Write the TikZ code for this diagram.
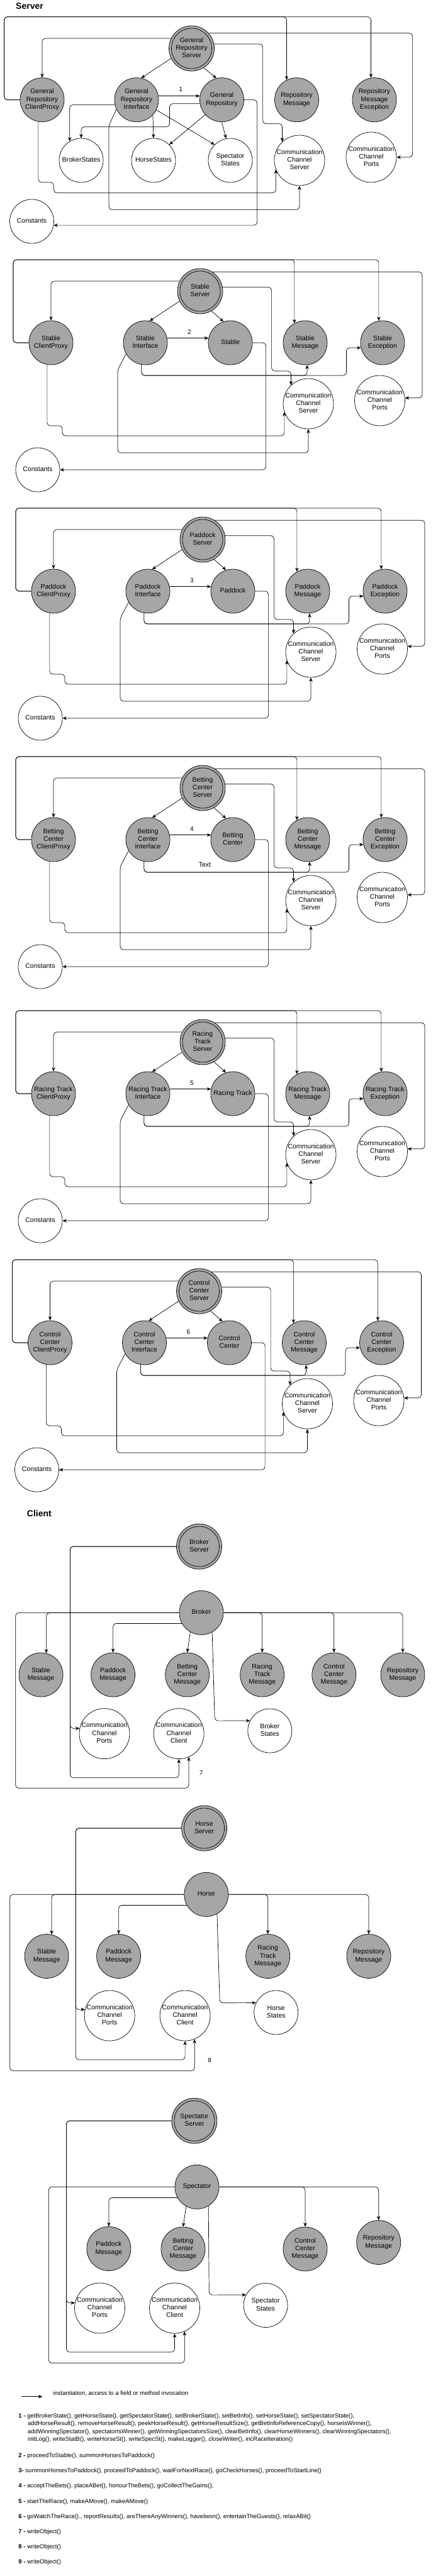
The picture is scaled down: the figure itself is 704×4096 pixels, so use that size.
\documentclass[tikz,border=0pt]{standalone}
\usepackage{fontspec}
\setmainfont{Liberation Sans}
\usetikzlibrary{arrows.meta}
\definecolor{nodegray}{HTML}{A6A6A6}
\newcommand{\nodefont}{\fontsize{10.5}{12.4}\selectfont}
\newcommand{\legfont}{\fontsize{9.5}{11}\selectfont}
\newcommand{\titlefont}{\fontsize{14}{16}\selectfont\bfseries}
\newcommand{\nodetxt}[1]{\makebox[0pt]{\begin{tabular}{@{}c@{}}#1\end{tabular}}}
\tikzset{
  circnode/.style={circle, draw=black, line width=0.7pt, minimum size=70pt, inner sep=0pt, font=\nodefont},
  gnode/.style={circnode, fill=nodegray},
  wnode/.style={circnode, fill=white},
  cnode/.style={circnode, fill=white, minimum size=80pt},
  snode/.style={circnode, fill=nodegray, minimum size=72pt,
    path picture={\draw[line width=0.7pt] (path picture bounding box.center) circle[radius=32pt];}},
  arr/.style={draw=black, line width=0.7pt, rounded corners=5pt, -{Stealth[length=6.5pt,width=5.5pt,inset=2pt]}},
  lab/.style={font=\fontsize{10}{12}\selectfont, inner sep=0pt},
  leg/.style={font=\legfont, inner sep=0pt, anchor=west},
  ttl/.style={font=\titlefont, inner sep=0pt, anchor=west}
}
% server section template
\newcommand{\srvsec}[9]{%
\begin{scope}[shift={(#1,#2)}, name prefix=s#3-]
\node[snode] (srv) at (0,0) {\nodetxt{#4}};
\node[gnode] (cp) at (-237,82) {\nodetxt{#5}};
\node[gnode] (if) at (-87,82) {\nodetxt{#6}};
\node[gnode] (core) at (48,82) {\nodetxt{#7}};
\node[gnode] (msg) at (167,82) {\nodetxt{#8}};
\node[gnode] (exc) at (290,82) {\nodetxt{#9}};
\node[cnode] (ccs) at (172,179) {\nodetxt{Communication\\Channel\\Server}};
\node[cnode] (ccp) at (285.5,174) {\nodetxt{Communication\\Channel\\Ports}};
\node[wnode] (const) at (-258,284) {\nodetxt{Constants}};
\draw[arr] (cp.west) -- (-297,82) -- (-297,-50) -| (msg.119);
\draw[arr] (cp.west) -- (-297,82) -- (-297,-50) -| (exc.100);
\draw[arr] (srv.58) -| (353,169.8) -- (ccp.6);
\draw[arr] (srv.10) -| (113.6,127) -| (ccs.133);
\draw[arr] (srv.154) -| (cp.north);
\draw[arr] (srv.206) -- (if.79);
\draw[arr] (srv.300) -- (core.108);
\draw[arr] (if.12) -- (core.168);
\node[lab] (num) at (-17,65) {#3};
\draw[arr] (if.260) |- (170,134) -- (msg.275);
\draw[arr] (if.260) |- (232.5,134) |- (exc.193);
\draw[arr] (core.east) -| (104.6,284) -- (const.east);
\draw[arr] (cp.260) |- (-219,214) -- (-219,230) -| (ccs.199);
\draw[arr] (if.210) -- (-131,125) -- (-131,257) -| (ccs.south);
\end{scope}}
\begin{document}
\begin{tikzpicture}[x=1pt,y=-1pt]
\fill[white] (0,0) rectangle (704,4096);
\useasboundingbox (0,0) rectangle (704,4096);

% ---------------- Server title
\node[ttl] (tserver) at (25,9.5) {Server};

% ---------------- General Repository section
\node[snode] (grs) at (304.5,77) {\nodetxt{General\\Repository\\Server}};
\node[gnode] (grcp) at (67,158.7) {\nodetxt{General\\Repository\\ClientProxy}};
\node[gnode] (gri) at (217,158.7) {\nodetxt{General\\Repository\\Interface}};
\node[gnode] (gr) at (352.5,158.7) {\nodetxt{General\\Repository}};
\node[gnode] (grm) at (471.5,158.7) {\nodetxt{Repository\\Message}};
\node[gnode] (grme) at (595,158.7) {\nodetxt{Repository\\Message\\Exception}};
\node[wnode] (gbs) at (129,255) {\nodetxt{BrokerStates}};
\node[wnode] (ghs) at (244,255) {\nodetxt{HorseStates}};
\node[wnode] (gss) at (366,255) {\nodetxt{Spectator\\States}};
\node[cnode] (gccs) at (476,255) {\nodetxt{Communication\\Channel\\Server}};
\node[cnode] (gccp) at (590,250) {\nodetxt{Communication\\Channel\\Ports}};
\node[wnode] (gconst) at (50.5,352) {\nodetxt{Constants}};

\draw[arr] (grcp.west) -- (6.7,158.7) -- (6.7,26.7) -| (grm.117);
\draw[arr] (grcp.west) -- (6.7,158.7) -- (6.7,26.7) -| (grme.99);
\draw[arr] (grs.42) -| (655.6,250) -- (gccp.east);
\draw[arr] (grs.11) -| (417.6,196.7) -| (gccs.133);
\draw[arr] (gr.east) -| (408.6,358.1) -- (gconst.350);
\draw[arr] (grs.154) -| (grcp.north);
\draw[arr] (grs.206) -- (gri.78);
\draw[arr] (grs.302) -- (gr.104);
\draw[arr] (gri.10) -- (gr.170);
\node[lab] (n1) at (287.4,141.7) {1};
\draw[arr] (gri.193) -| (gbs.121);
\draw[arr] (gr.190) -| (269.4,201.7) -| (gbs.north);
\draw[arr] (gri.317) -- (ghs.north);
\draw[arr] (gri.333) -- (gss.135);
\draw[arr] (gr.222) -- (ghs.45);
\draw[arr] (gr.south) -- (gss.101);
\draw[arr] (grcp.260) |- (85.3,290) -- (85.3,306.7) -| (gccs.201);
\draw[arr] (gri.205) -- (172.9,200) -- (172.9,333.3) -| (gccs.south);

% ---------------- other server sections
\srvsec{318}{463}{2}{Stable\\Server}{Stable\\ClientProxy}{Stable\\Interface}{Stable}{Stable\\Message}{Stable\\Exception}
\srvsec{322}{858}{3}{Paddock\\Server}{Paddock\\ClientProxy}{Paddock\\Interface}{Paddock}{Paddock\\Message}{Paddock\\Exception}
\srvsec{322}{1253}{4}{Betting\\Center\\Server}{Betting\\Center\\ClientProxy}{Betting\\Center\\Interface}{Betting\\Center}{Betting\\Center\\Message}{Betting\\Center\\Exception}
\node[lab, font=\nodefont] (textlab) at (325.5,1375) {Text};
\srvsec{322}{1657}{5}{Racing\\Track\\Server}{Racing Track\\ClientProxy}{Racing Track\\Interface}{Racing Track}{Racing Track\\Message}{Racing Track\\Exception}
\srvsec{316.5}{2053}{6}{Control\\Center\\Server}{Control\\Center\\ClientProxy}{Control\\Center\\Interface}{Control\\Center}{Control\\Center\\Message}{Control\\Center\\Exception}

% ---------------- Client title
\node[ttl] (tclient) at (42.7,2406) {Client};

% ---------------- Broker
\node[snode] (bsrv) at (316.5,2459) {\nodetxt{Broker\\Server}};
\node[gnode] (brk) at (320,2564.3) {\nodetxt{Broker}};
\node[gnode] (bsm) at (65.1,2663) {\nodetxt{Stable\\Message}};
\node[gnode] (bpm) at (179.6,2663) {\nodetxt{Paddock\\Message}};
\node[gnode] (bbm) at (297.7,2663) {\nodetxt{Betting\\Center\\Message}};
\node[gnode] (brm) at (416.7,2663) {\nodetxt{Racing\\Track\\Message}};
\node[gnode] (bcm) at (530.8,2663) {\nodetxt{Control\\Center\\Message}};
\node[gnode] (brp) at (640,2663) {\nodetxt{Repository\\Message}};
\node[cnode] (bpo) at (166,2756.6) {\nodetxt{Communication\\Channel\\Ports}};
\node[cnode] (bcl) at (284.2,2756.6) {\nodetxt{Communication\\Channel\\Client}};
\node[wnode] (bst) at (428.8,2752) {\nodetxt{Broker\\States}};
\draw[arr] (bsrv.west) -| (111.4,2748.3) -- (bpo.168);
\draw[arr] (bsrv.west) -| (111.4,2826.7) -| (bcl.south);
\draw[arr] (brk.west) -| (bsm.76);
\draw[arr] (brk.west) -| (24.7,2843.3) -| (bcl.293);
\draw[arr] (brk.209) -| (bpm.north);
\draw[arr] (brk.240) -- (bbm.north);
\draw[arr] (brk.east) -| (brm.north);
\draw[arr] (brk.east) -| (bcm.north);
\draw[arr] (brk.east) -| (brp.north);
\draw[arr] (brk.299) -- (341.3,2736.1) -- (bst.153);
\node[lab] (n7) at (319.7,2819) {7};

% ---------------- Horse
\node[snode] (hsrv) at (324.6,2907) {\nodetxt{Horse\\Server}};
\node[gnode] (hrs) at (327.8,3012.3) {\nodetxt{Horse}};
\node[gnode] (hsm) at (74.1,3110.5) {\nodetxt{Stable\\Message}};
\node[gnode] (hpm) at (188.6,3110.5) {\nodetxt{Paddock\\Message}};
\node[gnode] (hrm) at (425.7,3110.5) {\nodetxt{Racing\\Track\\Message}};
\node[gnode] (hrp) at (586,3110.5) {\nodetxt{Repository\\Message}};
\node[cnode] (hpo) at (174.2,3205) {\nodetxt{Communication\\Channel\\Ports}};
\node[cnode] (hcl) at (294.1,3205) {\nodetxt{Communication\\Channel\\Client}};
\node[wnode] (hst) at (438.7,3200) {\nodetxt{Horse\\States}};
\draw[arr] (hsrv.west) -| (120.3,3195.3) -- (hpo.166);
\draw[arr] (hsrv.west) -| (120.3,3275) -| (hcl.south);
\draw[arr] (hrs.west) -| (hsm.77);
\draw[arr] (hrs.west) -| (15.7,3292.7) -| (hcl.292);
\draw[arr] (hrs.209) -| (hpm.north);
\draw[arr] (hrs.east) -| (hrm.north);
\draw[arr] (hrs.east) -| (hrp.north);
\draw[arr] (hrs.299) -- (349.3,3184.7) -- (hst.154);
\node[lab] (n8) at (333.2,3276) {8};

% ---------------- Spectator
\node[snode] (ssrv) at (308.9,3372.2) {\nodetxt{Spectator\\Server}};
\node[gnode] (spc) at (313,3477.3) {\nodetxt{Spectator}};
\node[gnode] (spm) at (172.9,3575.5) {\nodetxt{Paddock\\Message}};
\node[gnode] (sbm) at (291,3576) {\nodetxt{Betting\\Center\\Message}};
\node[gnode] (scm) at (485,3576) {\nodetxt{Control\\Center\\Message}};
\node[gnode] (srp) at (601.7,3565.5) {\nodetxt{Repository\\Message}};
\node[cnode] (spo) at (158.5,3670) {\nodetxt{Communication\\Channel\\Ports}};
\node[cnode] (scl) at (277.5,3670) {\nodetxt{Communication\\Channel\\Client}};
\node[wnode] (sst) at (422.1,3665.5) {\nodetxt{Spectator\\States}};
\draw[arr] (ssrv.west) -| (105.5,3661.7) -- (spo.168);
\draw[arr] (ssrv.west) -| (105.5,3740) -| (scl.south);
\draw[arr] (spc.west) -| (77.2,3757.3) -| (scl.293);
\draw[arr] (spc.209) -| (spm.north);
\draw[arr] (spc.241) -- (sbm.north);
\draw[arr] (spc.east) -| (scm.north);
\draw[arr] (spc.east) -| (srp.north);
\draw[arr] (spc.301) -- (332.3,3649.1) -- (sst.152);

% ---------------- Legend
\coordinate (lga) at (33.7,3810.7);
\coordinate (lgb) at (67.4,3810.7);
\draw[arr] (lga) -- (lgb);
\node[leg] (lgt) at (84.4,3805.3) {instantiation, access to a field or method invocation};
\node[leg] (l1a) at (29.2,3842) {\textbf{1 -} getBrokerState(), getHorseState(), getSpectatorState(), setBrokerState(), setBetInfo(), setHorseState(), setSpectatorState(),};
\node[leg] (l1b) at (44,3854.3) {addHorseResult(), removeHorseResult(), peekHorseResult(), getHorseResultSize(), getBetInfoReferenceCopy(), horseIsWinner(),};
\node[leg] (l1c) at (44,3866.7) {addWinningSpectator(), spectatorIsWinner(), getWinningSpectatorsSize(), clearBetInfo(), clearHorseWinners(), clearWinningSpectators(),};
\node[leg] (l1d) at (44,3878.7) {initLog(), writeStatB(), writeHorseSt(), writeSpecSt(), makeLogger(), closeWriter(), incRaceIteration()};
\node[leg] (l2) at (29.2,3905) {\textbf{2 -} proceedToStable(), summonHorsesToPaddock()};
\node[leg] (l3) at (29.2,3929.3) {\textbf{3-} summonHorsesToPaddock(), proceedToPaddock(), waitForNextRace(), goCheckHorses(), proceedToStartLine()};
\node[leg] (l4) at (29.2,3953.3) {\textbf{4 -} acceptTheBets(), placeABet(), honourTheBets(), goCollectTheGains(),};
\node[leg] (l5) at (29.2,3977.7) {\textbf{5 -} startTheRace(), makeAMove(), makeAMove()};
\node[leg] (l6) at (29.2,4001.7) {\textbf{6 -} goWatchTheRace()., reportResults(), areThereAnyWinners(), haveIwon(), entertainTheGuests(), relaxABit()};
\node[leg] (l7) at (29.2,4026) {\textbf{7 -} writeObject()};
\node[leg] (l8) at (29.2,4050) {\textbf{8 -} writeObject()};
\node[leg] (l9) at (29.2,4074.3) {\textbf{9 -} writeObject()};
\end{tikzpicture}
\end{document}
